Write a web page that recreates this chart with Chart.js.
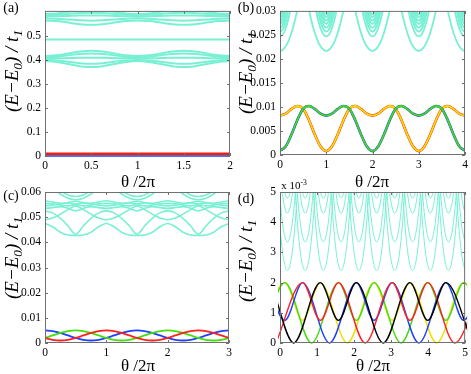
<!DOCTYPE html>
<html><head><meta charset="utf-8">
<script src="https://cdn.jsdelivr.net/npm/chart.js@4.4.1/dist/chart.umd.min.js"></script>
<style>
body{margin:0;background:#fff;}
#wrap{position:relative;width:471px;height:374px;overflow:hidden;font-family:"Liberation Serif","Times New Roman",serif;background:#fff;}
canvas{position:absolute;left:0;top:0;}
.t{position:absolute;white-space:nowrap;color:#000;transform:translate(-50%,-50%);line-height:1;}
.yt{position:absolute;white-space:nowrap;color:#000;font-style:italic;font-size:19px;transform:translate(-50%,-50%) rotate(-90deg);line-height:1;}
sub{font-size:70%;vertical-align:-0.25em;}
sup{font-size:70%;vertical-align:0.5em;}
</style></head><body>
<div id="wrap">
<canvas id="ca" width="471" height="374"></canvas>
<canvas id="cb" width="471" height="374"></canvas>
<canvas id="cc" width="471" height="374"></canvas>
<canvas id="cd" width="471" height="374"></canvas>
<div class="t" style="left:11px;top:8px;font-size:14px">(a)</div>
<div class="t" style="left:246px;top:8px;font-size:14px">(b)</div>
<div class="t" style="left:11px;top:196px;font-size:14px">(c)</div>
<div class="t" style="left:246px;top:199px;font-size:14px">(d)</div>
<div class="yt" style="left:13px;top:71px">(E−E<sub>0</sub>) / t<sub>1</sub></div>
<div class="yt" style="left:247px;top:73px">(E−E<sub>0</sub>) / t<sub>1</sub></div>
<div class="yt" style="left:13px;top:258px">(E−E<sub>0</sub>) / t<sub>1</sub></div>
<div class="yt" style="left:247px;top:261px">(E−E<sub>0</sub>) / t<sub>1</sub></div>
<div class="t" style="left:138px;top:181px;font-size:17px">θ /2π</div>
<div class="t" style="left:372px;top:181px;font-size:17px">θ /2π</div>
<div class="t" style="left:138px;top:365px;font-size:17px">θ /2π</div>
<div class="t" style="left:373px;top:365px;font-size:17px">θ /2π</div>
<div class="t" style="left:294px;top:185px;font-size:11px">x 10<sup>-3</sup></div>
</div>
<script>
// ---------------- Panel (a) data ----------------
const xA = [0,0.125,0.25,0.375,0.5,0.625,0.75,0.875,1,1.125,1.25,1.375,1.5,1.625,1.75,1.875,2];
const aBand1 = [0.418,0.4212,0.429,0.4368,0.44,0.4368,0.429,0.4212,0.418,0.4212,0.429,0.4368,0.44,0.4368,0.429,0.4212,0.418];
const aBand2 = [0.413,0.4153,0.421,0.4267,0.429,0.4267,0.421,0.4153,0.413,0.4153,0.421,0.4267,0.429,0.4267,0.421,0.4153,0.413];
const aBand3 = [0.408,0.4084,0.4095,0.4106,0.411,0.4106,0.4095,0.4084,0.408,0.4084,0.4095,0.4106,0.411,0.4106,0.4095,0.4084,0.408];
const aBand4 = [0.402,0.3997,0.394,0.3883,0.386,0.3883,0.394,0.3997,0.402,0.3997,0.394,0.3883,0.386,0.3883,0.394,0.3997,0.402];
const aBand5 = [0.397,0.3934,0.3845,0.3757,0.372,0.3757,0.3845,0.3934,0.397,0.3934,0.3845,0.3757,0.372,0.3757,0.3845,0.3934,0.397];
const aMid = [0.487,0.487,0.487,0.487,0.487,0.487,0.487,0.487,0.487,0.487,0.487,0.487,0.487,0.487,0.487,0.487,0.487];
const aTop1 = [0.567,0.5644,0.558,0.5516,0.549,0.5516,0.558,0.5644,0.567,0.5644,0.558,0.5516,0.549,0.5516,0.558,0.5644,0.567];
const aTop2 = [0.576,0.5745,0.571,0.5675,0.566,0.5675,0.571,0.5745,0.576,0.5745,0.571,0.5675,0.566,0.5675,0.571,0.5745,0.576];
const aTop3 = [0.584,0.5846,0.586,0.5874,0.588,0.5874,0.586,0.5846,0.584,0.5846,0.586,0.5874,0.588,0.5874,0.586,0.5846,0.584];
const aTop4 = [0.59,0.5913,0.5945,0.5977,0.599,0.5977,0.5945,0.5913,0.59,0.5913,0.5945,0.5977,0.599,0.5977,0.5945,0.5913,0.59];
const aTop5 = [0.594,0.5966,0.603,0.6094,0.612,0.6094,0.603,0.5966,0.594,0.5966,0.603,0.6094,0.612,0.6094,0.603,0.5966,0.594];
const aRed = [0.0095,0.0095,0.0095,0.0095,0.0095,0.0095,0.0095,0.0095,0.0095,0.0095,0.0095,0.0095,0.0095,0.0095,0.0095,0.0095,0.0095];
const aBlue = [0.001,0.001,0.001,0.001,0.001,0.001,0.001,0.001,0.001,0.001,0.001,0.001,0.001,0.001,0.001,0.001,0.001];
const aXTicks = [0,0.5,1,1.5,2];
const aXLabels = ['0','0.5','1','1.5','2'];
const aYTicks = [0,0.1,0.2,0.3,0.4,0.5];
const aYLabels = ['0','0.1','0.2','0.3','0.4','0.5'];

// ---------------- Panel (b) data ----------------
const xB = [0,0.125,0.25,0.375,0.5,0.625,0.75,0.875,1,1.125,1.25,1.375,1.5,1.625,1.75,1.875,2,2.125,2.25,2.375,2.5,2.625,2.75,2.875,3,3.125,3.25,3.375,3.5,3.625,3.75,3.875,4];
const bRedYellow = [0.0082,0.0086,0.0096,0.0102,0.0096,0.0073,0.0043,0.0018,0.0008,0.0018,0.0043,0.0073,0.0096,0.0102,0.0096,0.0086,0.0082,0.0086,0.0096,0.0102,0.0096,0.0073,0.0043,0.0018,0.0008,0.0018,0.0043,0.0073,0.0096,0.0102,0.0096,0.0086,0.0082];
const bBlueGreen = [0.0009,0.0018,0.0043,0.0073,0.0096,0.0102,0.0096,0.0086,0.0082,0.0086,0.0096,0.0102,0.0096,0.0073,0.0043,0.0018,0.0008,0.0018,0.0043,0.0073,0.0096,0.0102,0.0096,0.0086,0.0082,0.0086,0.0096,0.0102,0.0096,0.0073,0.0043,0.0018,0.0009];
const bArcCenters = [0,1,2,3,4];
const bArcOffsets = [-0.45,-0.375,-0.3,-0.24,-0.18,-0.12,-0.06,0,0.06,0.12,0.18,0.24,0.3,0.375,0.45];
const bArc1 = [0.03397,0.03022,0.02715,0.02519,0.02366,0.02257,0.02192,0.0217,0.02192,0.02257,0.02366,0.02519,0.02715,0.03022,0.03397];
const bArc2 = [0.0469,0.0401,0.03456,0.03101,0.02825,0.02628,0.02509,0.0247,0.02509,0.02628,0.02825,0.03101,0.03456,0.0401,0.0469];
const bArc3 = [0.05257,0.04436,0.03764,0.03334,0.03,0.02761,0.02618,0.0257,0.02618,0.02761,0.03,0.03334,0.03764,0.04436,0.05257];
const bArc4 = [0.058,0.04838,0.0405,0.03546,0.03154,0.02874,0.02706,0.0265,0.02706,0.02874,0.03154,0.03546,0.0405,0.04838,0.058];
const bArc5 = [0.0653,0.05366,0.04418,0.0381,0.03338,0.03,0.02798,0.0273,0.02798,0.03,0.03338,0.0381,0.04418,0.05366,0.0653];
const bArc6 = [0.0685,0.0561,0.046,0.03952,0.03448,0.03088,0.02872,0.028,0.02872,0.03088,0.03448,0.03952,0.046,0.0561,0.0685];
const bArc7 = [0.0733,0.0596,0.0485,0.04137,0.03583,0.03187,0.02949,0.0287,0.02949,0.03187,0.03583,0.04137,0.0485,0.0596,0.0733];
const bArc8 = [0.0799,0.0645,0.0518,0.0437,0.0374,0.0329,0.0302,0.0293,0.0302,0.0329,0.0374,0.0437,0.0518,0.0645,0.0799];
const bXTicks = [0,1,2,3,4];
const bXLabels = ['0','1','2','3','4'];
const bYTicks = [0,0.005,0.01,0.015,0.02,0.025,0.03];
const bYLabels = ['0','0.005','0.01','0.015','0.02','0.025','0.03'];

// ---------------- Panel (c) data ----------------
const xC = [0,0.125,0.25,0.375,0.5,0.625,0.75,0.875,1,1.125,1.25,1.375,1.5,1.625,1.75,1.875,2,2.125,2.25,2.375,2.5,2.625,2.75,2.875,3];
const cBlue = [0.005,0.00473,0.004,0.003,0.002,0.00127,0.001,0.00127,0.002,0.003,0.004,0.00473,0.005,0.00473,0.004,0.003,0.002,0.00127,0.001,0.00127,0.002,0.003,0.004,0.00473,0.005];
const cRed = [0.002,0.00127,0.001,0.00127,0.002,0.003,0.004,0.00473,0.005,0.00473,0.004,0.003,0.002,0.00127,0.001,0.00127,0.002,0.003,0.004,0.00473,0.005,0.00473,0.004,0.003,0.002];
const cGreen = [0.002,0.003,0.004,0.00473,0.005,0.00473,0.004,0.003,0.002,0.00127,0.001,0.00127,0.002,0.003,0.004,0.00473,0.005,0.00473,0.004,0.003,0.002,0.00127,0.001,0.00127,0.002];
const cCyan1 = [0.0525,0.0517,0.0495,0.0465,0.0432,0.0465,0.0495,0.0517,0.0525,0.0517,0.0495,0.0465,0.0432,0.0465,0.0495,0.0517,0.0525,0.0517,0.0495,0.0465,0.0432,0.0465,0.0495,0.0517,0.0525];
const cCyan2 = [0.0475,0.0462,0.044,0.0429,0.0427,0.0429,0.044,0.0462,0.0475,0.0462,0.044,0.0429,0.0427,0.0429,0.044,0.0462,0.0475,0.0462,0.044,0.0429,0.0427,0.0429,0.044,0.0462,0.0475];
const cCyan3 = [0.049,0.0497,0.0512,0.053,0.0545,0.053,0.0512,0.0497,0.049,0.0497,0.0512,0.053,0.0545,0.053,0.0512,0.0497,0.049,0.0497,0.0512,0.053,0.0545,0.053,0.0512,0.0497,0.049];
const cCyan4 = [0.0555,0.0553,0.0548,0.0545,0.055,0.0545,0.0548,0.0553,0.0555,0.0553,0.0548,0.0545,0.055,0.0545,0.0548,0.0553,0.0555,0.0553,0.0548,0.0545,0.055,0.0545,0.0548,0.0553,0.0555];
const cCyan5 = [0.0545,0.0548,0.0553,0.0556,0.0552,0.0556,0.0553,0.0548,0.0545,0.0548,0.0553,0.0556,0.0552,0.0556,0.0553,0.0548,0.0545,0.0548,0.0553,0.0556,0.0552,0.0556,0.0553,0.0548,0.0545];
const cCyan6 = [0.0535,0.0538,0.0542,0.0535,0.0525,0.0535,0.0542,0.0538,0.0535,0.0538,0.0542,0.0535,0.0525,0.0535,0.0542,0.0538,0.0535,0.0538,0.0542,0.0535,0.0525,0.0535,0.0542,0.0538,0.0535];
const cCyan7 = [0.0565,0.056,0.0555,0.0558,0.0563,0.0558,0.0555,0.056,0.0565,0.056,0.0555,0.0558,0.0563,0.0558,0.0555,0.056,0.0565,0.056,0.0555,0.0558,0.0563,0.0558,0.0555,0.056,0.0565];
const cCyan8 = [0.063,0.0615,0.0592,0.0575,0.0569,0.0575,0.0592,0.0615,0.063,0.0615,0.0592,0.0575,0.0569,0.0575,0.0592,0.0615,0.063,0.0615,0.0592,0.0575,0.0569,0.0575,0.0592,0.0615,0.063];
const cCyan9 = [0.066,0.064,0.0608,0.0588,0.0582,0.0588,0.0608,0.064,0.066,0.064,0.0608,0.0588,0.0582,0.0588,0.0608,0.064,0.066,0.064,0.0608,0.0588,0.0582,0.0588,0.0608,0.064,0.066];
const cXTicks = [0,1,2,3];
const cXLabels = ['0','1','2','3'];
const cYTicks = [0,0.01,0.02,0.03,0.04,0.05,0.06];
const cYLabels = ['0','0.01','0.02','0.03','0.04','0.05','0.06'];

// ---------------- Panel (d) data (units of 1e-3) ----------------
const dBlackX = [-0.84,-0.35,0.37,1.09,1.58,2.06,2.79,3.51,3.99,4.48,5.2];
const dBlackY = [0.75,2,0,2,0.75,2,0,2,0.75,2,0];
const dGreenX = [-0.35,0.13,0.85,1.58,2.06,2.54,3.27,3.99,4.48,4.96,5.68];
const dGreenY = [0.75,2,0,2,0.75,2,0,2,0.75,2,0];
const dBlueX = [-0.35,0.13,0.61,1.34,2.06,2.54,3.03,3.75,4.48,4.96,5.44];
const dBlueY = [2,0.75,2,0,2,0.75,2,0,2,0.75,2];
const dYellowX = [-0.6,0.13,0.61,1.09,1.82,2.54,3.03,3.51,4.23,4.96,5.44];
const dYellowY = [0,2,0.75,2,0,2,0.75,2,0,2,0.75];
const dRedX = [-0.11,0.61,1.09,1.58,2.3,3.03,3.51,3.99,4.72,5.44];
const dRedY = [0,2,0.75,2,0,2,0.75,2,0,2];
const dArcCenters = [-0.28,0.2,0.68,1.17,1.65,2.13,2.61,3.1,3.58,4.06,4.55,5.03];
const dArcOffsets = [-0.36,-0.3,-0.24,-0.18,-0.12,-0.06,0,0.06,0.12,0.18,0.24,0.3,0.36];
const dArc1 = [7.03,5.61,4.46,3.56,2.91,2.53,2.4,2.53,2.91,3.56,4.46,5.61,7.03];
const dArc2 = [7.98,6.56,5.41,4.51,3.86,3.48,3.35,3.48,3.86,4.51,5.41,6.56,7.98];
const dArc3 = [8.9,7.5,6.36,5.46,4.81,4.43,4.3,4.43,4.81,5.46,6.36,7.5,8.9];
const dArc4 = [9.4,8,6.86,5.96,5.31,4.93,4.8,4.93,5.31,5.96,6.86,8,9.4];
const dXTicks = [0,1,2,3,4,5];
const dXLabels = ['0','1','2','3','4','5'];
const dYTicks = [0,1,2,3,4,5];
const dYLabels = ['0','1','2','3','4','5'];

// ---------------- helpers ----------------
const CYAN = 'rgb(120,240,212)';
Chart.defaults.font.family = '"Liberation Serif","Times New Roman",serif';
Chart.defaults.font.size = 11.5;
Chart.defaults.color = '#000';

function pts(xs, ys){ return xs.map((x,i)=>({x:x, y:ys[i]})); }
function arcPts(centers, offsets, vals){
  const out=[];
  centers.forEach(c=>{ offsets.forEach((o,i)=>{ out.push({x:c+o, y:vals[i]}); }); });
  return out;
}
function ds(data, color, width, extra){
  return Object.assign({data:data, borderColor:color, backgroundColor:color, borderWidth:width,
    showLine:true, pointRadius:0, cubicInterpolationMode:'monotone', fill:false, clip:0}, extra||{});
}

const framePlugin = {
  id:'frame',
  afterDatasetsDraw(chart){
    const ctx=chart.ctx, a=chart.chartArea, x=chart.scales.x, y=chart.scales.y;
    ctx.save();
    ctx.strokeStyle='#707070'; ctx.lineWidth=1;
    ctx.strokeRect(a.left+0.5, a.top+0.5, a.right-a.left-1, a.bottom-a.top-1);
    const L=3;
    ctx.beginPath();
    x.ticks.forEach(t=>{const px=Math.round(x.getPixelForValue(t.value))+0.5; ctx.moveTo(px,a.bottom); ctx.lineTo(px,a.bottom-L); ctx.moveTo(px,a.top); ctx.lineTo(px,a.top+L);});
    y.ticks.forEach(t=>{const py=Math.round(y.getPixelForValue(t.value))+0.5; ctx.moveTo(a.left,py); ctx.lineTo(a.left+L,py); ctx.moveTo(a.right,py); ctx.lineTo(a.right-L,py);});
    ctx.stroke(); ctx.restore();
  }
};

function makePanel(id, area, xr, xt, xl, yr, yt, yl, datasets){
  const YW=40, XH=20;
  // later entries in the list are drawn on top
  datasets.forEach((d,i)=>{ d.order = datasets.length - i; });
  new Chart(document.getElementById(id), {
    type:'scatter',
    data:{datasets:datasets},
    options:{
      responsive:false, animation:false, devicePixelRatio:1,
      layout:{padding:{left:area.l-YW, right:471-area.r, top:area.t, bottom:374-area.b-XH}},
      plugins:{legend:{display:false}, tooltip:{enabled:false}},
      scales:{
        x:{type:'linear', min:xr[0], max:xr[1],
           grid:{display:false, drawTicks:false, tickLength:0}, border:{display:false},
           afterBuildTicks:s=>{s.ticks=xt.map(v=>({value:v}));},
           afterFit:s=>{s.height=XH;},
           ticks:{autoSkip:false, maxRotation:0, padding:3, callback:(v,i)=>xl[i]}},
        y:{type:'linear', min:yr[0], max:yr[1],
           grid:{display:false, drawTicks:false, tickLength:0}, border:{display:false},
           afterBuildTicks:s=>{s.ticks=yt.map(v=>({value:v}));},
           afterFit:s=>{s.width=YW;},
           ticks:{autoSkip:false, padding:4, callback:(v,i)=>yl[i]}}
      }
    },
    plugins:[framePlugin]
  });
}

// Panel (a)
makePanel('ca', {l:45,r:230,t:5,b:156}, [0,2], aXTicks, aXLabels, [0,0.607], aYTicks, aYLabels, [
  ds(pts(xA,aBand1),CYAN,2), ds(pts(xA,aBand2),CYAN,2), ds(pts(xA,aBand3),CYAN,2),
  ds(pts(xA,aBand4),CYAN,2), ds(pts(xA,aBand5),CYAN,2), ds(pts(xA,aMid),CYAN,2),
  ds(pts(xA,aTop1),CYAN,2), ds(pts(xA,aTop2),CYAN,2), ds(pts(xA,aTop3),CYAN,2),
  ds(pts(xA,aTop4),CYAN,2), ds(pts(xA,aTop5),CYAN,2),
  ds(pts(xA,aRed),'#ff1a1a',2.5,{clip:3}), ds(pts(xA,aBlue),'#1f3dff',2,{clip:3})
]);

// Panel (b)
makePanel('cb', {l:280,r:465,t:5,b:155}, [0,4], bXTicks, bXLabels, [0,0.03], bYTicks, bYLabels, [
  ds(arcPts(bArcCenters,bArcOffsets,bArc8),CYAN,1.8), ds(arcPts(bArcCenters,bArcOffsets,bArc7),CYAN,1.8),
  ds(arcPts(bArcCenters,bArcOffsets,bArc6),CYAN,1.8), ds(arcPts(bArcCenters,bArcOffsets,bArc5),CYAN,1.8),
  ds(arcPts(bArcCenters,bArcOffsets,bArc4),CYAN,1.8), ds(arcPts(bArcCenters,bArcOffsets,bArc3),CYAN,1.8),
  ds(arcPts(bArcCenters,bArcOffsets,bArc2),CYAN,1.8), ds(arcPts(bArcCenters,bArcOffsets,bArc1),CYAN,1.8),
  ds(pts(xB,bRedYellow),'#ff2020',2.6), ds(pts(xB,bRedYellow),'#f0e000',1.8),
  ds(pts(xB,bBlueGreen),'#2040ff',2.6), ds(pts(xB,bBlueGreen),'#44dd11',1.8)
]);

// Panel (c)
makePanel('cc', {l:45,r:229,t:192,b:343}, [0,3], cXTicks, cXLabels, [0,0.06], cYTicks, cYLabels, [
  ds(pts(xC,cCyan1),CYAN,1.6), ds(pts(xC,cCyan2),CYAN,1.6), ds(pts(xC,cCyan3),CYAN,1.6),
  ds(pts(xC,cCyan4),CYAN,1.6), ds(pts(xC,cCyan5),CYAN,1.6), ds(pts(xC,cCyan6),CYAN,1.6),
  ds(pts(xC,cCyan7),CYAN,1.6), ds(pts(xC,cCyan8),CYAN,1.6), ds(pts(xC,cCyan9),CYAN,1.6),
  ds(pts(xC,cBlue),'#2040ff',1.8), ds(pts(xC,cGreen),'#44dd11',1.8), ds(pts(xC,cRed),'#ff2020',1.8)
]);

// Panel (d)
makePanel('cd', {l:280,r:467,t:192,b:343}, [0,5], dXTicks, dXLabels, [0,5], dYTicks, dYLabels, [
  ds(arcPts(dArcCenters,dArcOffsets,dArc1),CYAN,1), ds(arcPts(dArcCenters,dArcOffsets,dArc2),CYAN,1),
  ds(arcPts(dArcCenters,dArcOffsets,dArc3),CYAN,1), ds(arcPts(dArcCenters,dArcOffsets,dArc4),CYAN,1),
  ds(pts(dYellowX,dYellowY),'#f0e000',1.4,{clip:2}), ds(pts(dGreenX,dGreenY),'#44dd11',1.4,{clip:2}),
  ds(pts(dBlueX,dBlueY),'#2040ff',1.4,{clip:2}), ds(pts(dRedX,dRedY),'#ff2020',1.4,{clip:2}),
  ds(pts(dBlackX,dBlackY),'#000000',1.4,{clip:2})
]);
</script>
</body></html>
